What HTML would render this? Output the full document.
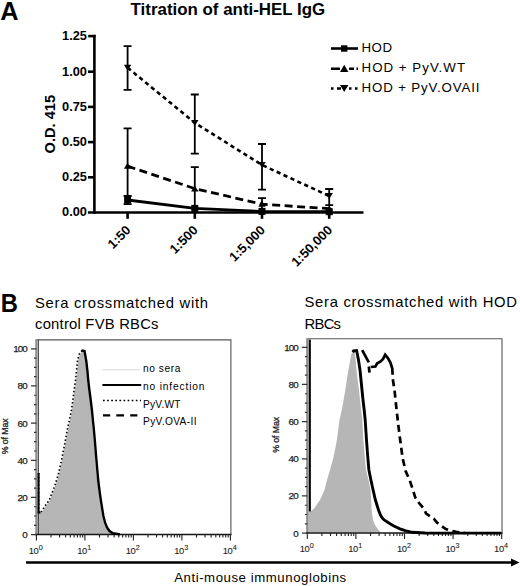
<!DOCTYPE html>
<html><head><meta charset="utf-8">
<style>
html,body{margin:0;padding:0;background:#fff;}
body{width:520px;height:586px;overflow:hidden;}
svg{display:block;}
text{font-family:"Liberation Sans",sans-serif;}
</style></head>
<body>
<svg width="520" height="586" viewBox="0 0 520 586">
<!-- ===== Panel A ===== -->
<text x="0.3" y="19.6" font-size="25.3" font-weight="bold">A</text>
<text x="130.6" y="14.5" font-size="16.9" font-weight="bold">Titration of anti-HEL IgG</text>

<!-- y axis -->
<g stroke="#000" stroke-width="2.6" fill="none">
  <line x1="94.4" y1="34.8" x2="94.4" y2="213.8"/>
  <line x1="88.2" y1="36.1" x2="95.6" y2="36.1"/>
  <line x1="88" y1="71.7" x2="94.4" y2="71.7"/>
  <line x1="88" y1="106.9" x2="94.4" y2="106.9"/>
  <line x1="88" y1="142.1" x2="94.4" y2="142.1"/>
  <line x1="88" y1="177.3" x2="94.4" y2="177.3"/>
  <line x1="88" y1="212.5" x2="363.5" y2="212.5"/>
  <line x1="127.6" y1="212.5" x2="127.6" y2="218.8"/>
  <line x1="194.8" y1="212.5" x2="194.8" y2="218.8"/>
  <line x1="262" y1="212.5" x2="262" y2="218.8"/>
  <line x1="329.2" y1="212.5" x2="329.2" y2="218.8"/>
</g>
<g font-size="12.8" font-weight="bold" text-anchor="end">
  <text x="87" y="40.4">1.25</text>
  <text x="87" y="75.6">1.00</text>
  <text x="87" y="110.8">0.75</text>
  <text x="87" y="146">0.50</text>
  <text x="87" y="181.2">0.25</text>
  <text x="87" y="216.4">0.00</text>
</g>
<text transform="translate(54.7,124.2) rotate(-90)" font-size="14.6" font-weight="bold" text-anchor="middle">O.D. 415</text>
<g font-size="13" font-weight="bold" text-anchor="end">
  <text transform="translate(131.4,231) rotate(-45)">1:50</text>
  <text transform="translate(198.6,231) rotate(-45)">1:500</text>
  <text transform="translate(265.8,231) rotate(-45)">1:5,000</text>
  <text transform="translate(333,231) rotate(-45)">1:50,000</text>
</g>

<!-- error bars -->
<g stroke="#000" stroke-width="1.8" fill="none">
  <!-- OVAII -->
  <path d="M127.6 46.2V89.8M123.6 46.2H131.6M123.6 89.8H131.6"/>
  <path d="M194.8 94.5V153.7M190.8 94.5H198.8M190.8 153.7H198.8"/>
  <path d="M262 144V189.6M258 144H266M258 189.6H266"/>
  <path d="M329.2 189V205.2M325.2 189H333.2M325.2 205.2H333.2"/>
  <!-- WT -->
  <path d="M127.6 128.3V204.2M123.6 128.3H131.6"/>
  <path d="M194.8 167.2V208M190.8 167.2H198.8"/>
  <path d="M262 198.1V210M258 198.1H266"/>
  <!-- HOD -->
  <path d="M123.6 196H131.6M123.6 204.2H131.6"/>
</g>
<!-- lines -->
<polyline points="127.6,200 194.8,208.3 262,211.4 329.2,211.7" stroke="#000" stroke-width="2.8" fill="none"/>
<polyline points="127.6,166.2 194.8,188.6 262,204.2 329.2,208.7" stroke="#000" stroke-width="2.8" fill="none" stroke-dasharray="8 4.5"/>
<polyline points="127.6,67.7 194.8,122.8 262,165 329.2,196" stroke="#000" stroke-width="2.6" fill="none" stroke-dasharray="4.2 3.4"/>
<!-- markers -->
<g fill="#000">
  <rect x="124.1" y="196.5" width="7" height="7"/>
  <rect x="191.3" y="204.9" width="7" height="7"/>
  <rect x="258.5" y="207.9" width="7" height="7"/>
  <rect x="325.7" y="208.2" width="7" height="7"/>
  <path d="M127.6 162.8L131.3 168.8H123.9Z"/>
  <path d="M194.8 185.4L198.5 191.4H191.1Z"/>
  <path d="M262.0 200.8L265.7 206.8H258.3Z"/>
  <path d="M329.2 205.3L332.9 211.3H325.5Z"/>
  <path d="M123.9 64.8H131.3L127.6 70.8Z"/>
  <path d="M191.1 119.9H198.5L194.8 125.9Z"/>
  <path d="M258.3 162.1H265.7L262.0 168.1Z"/>
  <path d="M325.5 193.1H332.9L329.2 199.1Z"/>
</g>

<!-- legend -->
<g stroke="#000" stroke-width="2.6" fill="none">
  <line x1="331" y1="48.5" x2="358" y2="48.5"/>
  <path d="M331 68.8H340M349 68.8H354M356.5 68.8H358"/>
  <path d="M331 88.5H333.5M337 88.5H341M349 88.5H351.5M355 88.5H357.5"/>
</g>
<g fill="#000">
  <rect x="341" y="45.3" width="6.4" height="6.4"/>
  <path d="M344.2 64.8L348.4 72H340Z"/>
  <path d="M340 84.9H348.4L344.2 92.1Z"/>
</g>
<g font-size="13.3">
  <text x="361.5" y="51.9" textLength="30.5">HOD</text>
  <text x="361.5" y="72.3" textLength="103.5">HOD + PyV.WT</text>
  <text x="361.5" y="92.2" textLength="118">HOD + PyV.OVAII</text>
</g>

<!-- ===== Panel B ===== -->
<text transform="translate(0.8,311.6) scale(0.95,1.03)" font-size="25" font-weight="bold">B</text>
<g font-size="14.8">
  <text x="35" y="307.5" textLength="173">Sera crossmatched with</text>
  <text x="35" y="329" textLength="123.5">control FVB RBCs</text>
  <text x="304.5" y="307.3" textLength="212.5">Sera crossmatched with HOD</text>
  <text x="304.5" y="328.8" textLength="36.5">RBCs</text>
</g>

<!-- PLOTS START -->
<path d="M37.4 534V512.8L41.2 512.6L42.8 510.8L45.0 507.0L48.0 503.0L49.9 500.0L52.3 494.0L55.6 485.0L58.8 475.0L62.1 460.0L64.1 450.0L66.0 440.0L67.8 430.0L70.0 420.0L72.0 410.0L73.4 400.0L74.5 391.0L76.0 381.0L77.0 370.7L78.0 360.5L80.0 354.0L82.7 350.8L84.0 352.0L85.2 360.5L86.5 370.7L87.4 381.0L88.5 391.0L89.7 400.0L90.9 410.0L91.9 420.0L92.8 430.0L93.7 440.0L94.9 455.0L96.2 470.0L97.3 482.0L98.7 493.0L100.0 502.5L101.2 510.0L102.2 516.0L103.8 522.5L105.8 527.5L108.3 531.0L111.8 533.3L115.0 534.0Z" fill="#b6b6b6"/>
<path d="M308.4 532.5V512L310 511.6L312.4 510L314.5 508L316.5 505L320 500L324.5 490L327 480L330 470L332.8 460L335 450L336.9 440L338.2 430L339.5 420L341.8 410L343.6 400L345.3 390L346.8 380L348.4 370L349.9 362L351 355L353 351L354.6 352L355.5 358L356.5 370L357.7 380L359 390L360 400L361.2 410L362.3 420L363.4 440L364.6 455L366 470L368.5 480L370.6 490L371.2 500L371.6 510L373 520L375 525L378.5 530L381 532.5Z" fill="#b6b6b6"/>
<path d="M36.4 339.9H230.9V534.6" fill="none" stroke="#555" stroke-width="1.1"/>
<path d="M36.4 339.3V534.6" fill="none" stroke="#8e8e8e" stroke-width="2.3"/>
<path d="M38.4 339.9V534.6" fill="none" stroke="#3c3c3c" stroke-width="1"/>
<path d="M35.4 534.6H231.5" fill="none" stroke="#151515" stroke-width="1.5"/>
<path d="M31 534.6H36.4M34 525.31H36.4M34 516.02H36.4M34 506.73H36.4M31 497.44H36.4M34 488.15H36.4M34 478.86H36.4M34 469.57H36.4M31 460.28H36.4M34 450.99H36.4M34 441.7H36.4M34 432.41H36.4M31 423.12H36.4M34 413.83H36.4M34 404.54H36.4M34 395.25H36.4M31 385.96H36.4M34 376.67H36.4M34 367.38H36.4M34 358.09H36.4M31 348.8H36.4" stroke="#333" stroke-width="1.2" fill="none"/>
<path d="M36.4 534.6V540.6M51 534.6V537.6M59.54 534.6V537.6M65.6 534.6V537.6M70.3 534.6V537.6M74.14 534.6V537.6M77.39 534.6V537.6M80.2 534.6V537.6M82.68 534.6V537.6M84.9 534.6V540.6M99.5 534.6V537.6M108.04 534.6V537.6M114.1 534.6V537.6M118.8 534.6V537.6M122.64 534.6V537.6M125.89 534.6V537.6M128.7 534.6V537.6M131.18 534.6V537.6M133.4 534.6V540.6M148 534.6V537.6M156.54 534.6V537.6M162.6 534.6V537.6M167.3 534.6V537.6M171.14 534.6V537.6M174.39 534.6V537.6M177.2 534.6V537.6M179.68 534.6V537.6M181.9 534.6V540.6M196.5 534.6V537.6M205.04 534.6V537.6M211.1 534.6V537.6M215.8 534.6V537.6M219.64 534.6V537.6M222.89 534.6V537.6M225.7 534.6V537.6M228.18 534.6V537.6M230.4 534.6V540.6" stroke="#222" stroke-width="1.1" fill="none"/>
<g font-size="9.8" fill="#222" stroke="#222" stroke-width="0.25" text-anchor="end"><text x="27.6" y="538.1" textLength="5.0">0</text><text x="27.6" y="500.94" textLength="10.0">20</text><text x="27.6" y="463.78" textLength="10.0">40</text><text x="27.6" y="426.62" textLength="10.0">60</text><text x="27.6" y="389.46" textLength="10.0">80</text><text x="27.6" y="352.3" textLength="14.4">100</text></g>
<g font-size="9.4" fill="#222" stroke="#222" stroke-width="0.1"><text x="28.8" y="553.5" textLength="10">10</text><text x="38.8" y="549.7" font-size="7.2">0</text><text x="77.3" y="553.5" textLength="10">10</text><text x="87.3" y="549.7" font-size="7.2">1</text><text x="125.8" y="553.5" textLength="10">10</text><text x="135.8" y="549.7" font-size="7.2">2</text><text x="174.3" y="553.5" textLength="10">10</text><text x="184.3" y="549.7" font-size="7.2">3</text><text x="222.8" y="553.5" textLength="10">10</text><text x="232.8" y="549.7" font-size="7.2">4</text></g>
<text transform="translate(7.9,436.3) rotate(-90)" font-size="8.8" fill="#222" stroke="#222" stroke-width="0.3" text-anchor="middle" textLength="36">% of Max</text>
<path d="M307.3 338.7H502V533.1" fill="none" stroke="#555" stroke-width="1.1"/>
<path d="M307.3 338.1V533.1" fill="none" stroke="#8e8e8e" stroke-width="2.3"/>
<path d="M306.3 533.1H502.6" fill="none" stroke="#151515" stroke-width="1.5"/>
<path d="M301.9 533.1H307.3M304.9 523.81H307.3M304.9 514.52H307.3M304.9 505.23H307.3M301.9 495.94H307.3M304.9 486.65H307.3M304.9 477.36H307.3M304.9 468.07H307.3M301.9 458.78H307.3M304.9 449.49H307.3M304.9 440.2H307.3M304.9 430.91H307.3M301.9 421.62H307.3M304.9 412.33H307.3M304.9 403.04H307.3M304.9 393.75H307.3M301.9 384.46H307.3M304.9 375.17H307.3M304.9 365.88H307.3M304.9 356.59H307.3M301.9 347.3H307.3" stroke="#333" stroke-width="1.2" fill="none"/>
<path d="M307.3 533.1V539.1M321.93 533.1V536.1M330.49 533.1V536.1M336.56 533.1V536.1M341.27 533.1V536.1M345.12 533.1V536.1M348.37 533.1V536.1M351.19 533.1V536.1M353.68 533.1V536.1M355.9 533.1V539.1M370.53 533.1V536.1M379.09 533.1V536.1M385.16 533.1V536.1M389.87 533.1V536.1M393.72 533.1V536.1M396.97 533.1V536.1M399.79 533.1V536.1M402.28 533.1V536.1M404.5 533.1V539.1M419.13 533.1V536.1M427.69 533.1V536.1M433.76 533.1V536.1M438.47 533.1V536.1M442.32 533.1V536.1M445.57 533.1V536.1M448.39 533.1V536.1M450.88 533.1V536.1M453.1 533.1V539.1M467.73 533.1V536.1M476.29 533.1V536.1M482.36 533.1V536.1M487.07 533.1V536.1M490.92 533.1V536.1M494.17 533.1V536.1M496.99 533.1V536.1M499.48 533.1V536.1M501.7 533.1V539.1" stroke="#222" stroke-width="1.1" fill="none"/>
<g font-size="9.8" fill="#222" stroke="#222" stroke-width="0.25" text-anchor="end"><text x="298.6" y="536.6" textLength="5.0">0</text><text x="298.6" y="499.44" textLength="10.0">20</text><text x="298.6" y="462.28" textLength="10.0">40</text><text x="298.6" y="425.12" textLength="10.0">60</text><text x="298.6" y="387.96" textLength="10.0">80</text><text x="298.6" y="350.8" textLength="14.4">100</text></g>
<g font-size="9.4" fill="#222" stroke="#222" stroke-width="0.1"><text x="299.7" y="552" textLength="10">10</text><text x="309.7" y="548.2" font-size="7.2">0</text><text x="348.3" y="552" textLength="10">10</text><text x="358.3" y="548.2" font-size="7.2">1</text><text x="396.9" y="552" textLength="10">10</text><text x="406.9" y="548.2" font-size="7.2">2</text><text x="445.5" y="552" textLength="10">10</text><text x="455.5" y="548.2" font-size="7.2">3</text><text x="494.1" y="552" textLength="10">10</text><text x="504.1" y="548.2" font-size="7.2">4</text></g>
<text transform="translate(279.3,434.8) rotate(-90)" font-size="8.8" fill="#222" stroke="#222" stroke-width="0.3" text-anchor="middle" textLength="36">% of Max</text>
<path d="M38.6 473V512.3H40.8L42.3 510.4L44.5 506.6L47.5 502.6L49.4 499.6L51.8 493.6L55.1 484.6L58.3 474.6L61.6 459.6L63.6 449.6L65.5 439.6L67.3 429.6L69.5 419.6L71.5 409.6L72.9 399.6L74.0 390.6L75.5 380.6L76.5 370.3L77.5 360.1L79.5 353.6L82.2 350.4" fill="none" stroke="#000" stroke-width="1.6" stroke-dasharray="1.5 2.3"/>
<path d="M38.6 473V512.5H40.5" fill="none" stroke="#000" stroke-width="2"/>
<path d="M81.6 350.4L84.5 351.0L86.2 360.5L87.4 370.7L88.3 381.0L89.5 391.0L90.7 400.0L91.9 410.0L92.9 420.0L93.9 430.0L94.8 440.0L96.0 455.0L97.3 470.0L98.4 482.0L99.8 493.0L101.2 502.5L102.4 510.0L103.4 516.0L105.0 522.5L107.0 527.5L109.5 531.0L113.0 533.3L120.0 534.4" fill="none" stroke="#000" stroke-width="2.4"/>
<path d="M309.8 339.6V511.5" stroke="#000" stroke-width="2.1" fill="none"/>
<path d="M352.6 352L353.6 350.8L356.6 350.5L358.5 360L360 370L361 380L362 390L363 400L364.2 410L365.2 420L366.5 440L367.6 455L368.9 470L370.9 480L373.1 490L375.4 500L378.5 510L380.5 515L382.3 518L384.5 520.2L387.7 522.2L390.5 524L393.8 526L400 528.9L406 530.9L412.3 532.3L425 533L501 533.1" fill="none" stroke="#000" stroke-width="2.9"/>
<path d="M362.2 350.2L368.8 362.4M368.8 366.5L369.5 372.7M370.8 367L375.4 366.5L377 363.5L380.6 361.4L383.1 358.9L385.2 354.8L387.7 357.8L390.3 362.4L392.3 368.6L392.6 374.7" fill="none" stroke="#000" stroke-width="2.7"/>
<path d="M392.8 379.3L394.5 390L396.6 410L398.3 425L400.2 440L402.6 458L405.6 471L409.6 480L413 490L415.2 497.3L418.7 502.5L424.4 509.4L426 513.5L430.8 516.9L434 519L437.1 522.7L441.1 525.6L445.8 529L449.2 530.2L456.1 531.9L465 533" fill="none" stroke="#000" stroke-width="2.7" stroke-dasharray="7 4.5"/>
<!-- left legend -->
<line x1="102.4" y1="369.6" x2="140.1" y2="369.6" stroke="#e2e2e2" stroke-width="1.2"/>
<line x1="102.4" y1="385" x2="141.2" y2="385" stroke="#000" stroke-width="2.2"/>
<line x1="103" y1="400.5" x2="141" y2="400.5" stroke="#000" stroke-width="1.7" stroke-dasharray="1.7 2.4"/>
<path d="M103 415.4H110.2M116.3 415.4H124M130.2 415.4H137.4" stroke="#000" stroke-width="2.2"/>
<g font-size="10.2" fill="#000">
  <text x="143" y="371.8" textLength="37.3">no sera</text>
  <text x="143" y="389.6" textLength="61.5">no infection</text>
  <text x="143" y="407.8" textLength="37.5">PyV.WT</text>
  <text x="143" y="424.9" textLength="53.5">PyV.OVA-II</text>
</g>

<!-- PLOTS END -->
<!-- bottom arrow -->
<line x1="26" y1="562.5" x2="512" y2="562.5" stroke="#000" stroke-width="2.5"/>
<path d="M511 558.6L519.5 562.5L511 566.4Z" fill="#000"/>
<text x="174.2" y="581.5" font-size="13.2" textLength="172">Anti-mouse immunoglobins</text>
</svg>
</body></html>
